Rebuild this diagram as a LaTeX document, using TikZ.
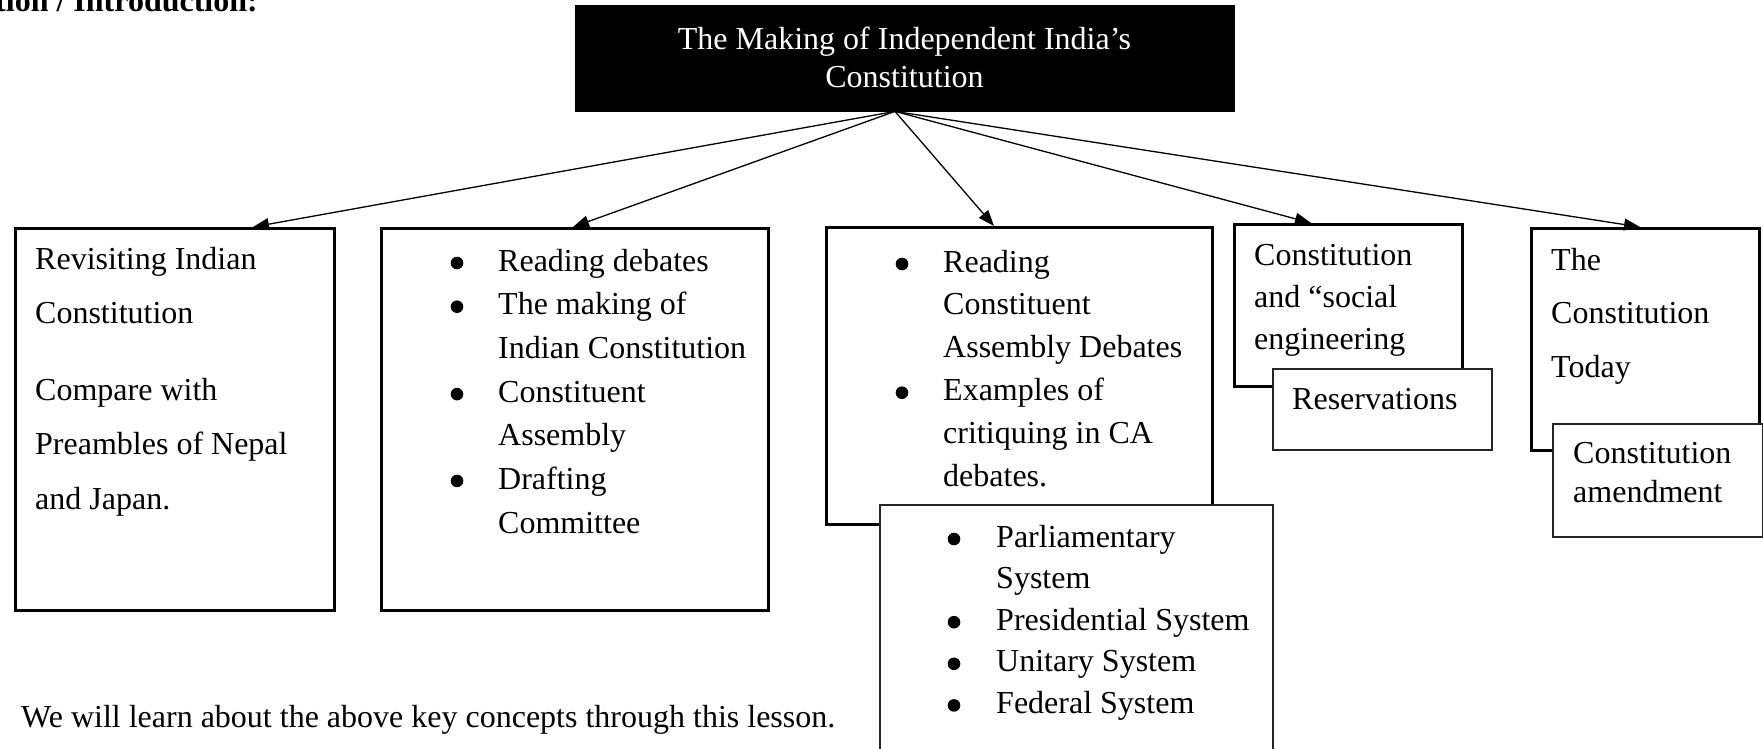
\documentclass[tikz,border=0pt]{standalone}
\usepackage{fontspec}
\setmainfont{Liberation Serif}
\usetikzlibrary{arrows.meta,calc}
\newcommand\linesat[2]{\fontsize{32pt}{#1}\selectfont\begin{tabular}[t]{@{}l@{}}#2\end{tabular}}
\begin{document}
\begin{tikzpicture}[x=1pt,y=-1pt,
  mainbox/.style={draw, line width=3pt, fill=white, anchor=north west, inner sep=0pt},
  subbox/.style={draw=black!85, line width=1.5pt, fill=white, anchor=north west, inner sep=0pt},
  arr/.style={-{Triangle[length=16pt,width=12pt]}, line width=1.3pt},
  lbl/.style={anchor=base west, inner sep=0pt}]
\useasboundingbox (0,0) rectangle (1763,749);
\clip (0,0) rectangle (1763,749);

% header
\node[anchor=base east, inner sep=0pt, font=\fontsize{32pt}{38pt}\selectfont\bfseries] (hdr) at (258,12) {tion / Introduction:};

% title
\node[anchor=north west, fill=black, draw=black, inner sep=0pt, minimum width=659pt, minimum height=106pt] (title) at (575,5) {};
\node[anchor=base, inner sep=0pt, text=white, font=\fontsize{32pt}{38pt}\selectfont] (titletext) at (904.5,50)
  {\begin{tabular}[t]{@{}c@{}}The Making of Independent India’s\\Constitution\end{tabular}};

% main boxes
\node[mainbox, minimum width=319pt, minimum height=382pt] (b1) at (14,227) {};
\node[mainbox, minimum width=387pt, minimum height=382pt] (b2) at (380,227) {};
\node[mainbox, minimum width=386pt, minimum height=297pt] (b3) at (825,226) {};
\node[mainbox, minimum width=228pt, minimum height=162pt] (b4) at (1233,223) {};
\node[mainbox, minimum width=228pt, minimum height=222pt] (b5) at (1530,227) {};

% sub boxes
\node[subbox, minimum width=393pt, minimum height=270pt] (s3) at (879,504) {};
\node[subbox, minimum width=219pt, minimum height=81pt] (s4) at (1272,368) {};
\node[subbox, minimum width=210pt, minimum height=113pt] (s5) at (1552,423) {};

% arrows
\coordinate (src) at ($(title.south west)+(320,0)$);
\draw[arr] (src) -- ($(b1.north west)+(239,0)$);
\draw[arr] (src) -- ($(b2.north west)+(193,0)$);
\draw[arr] (src) -- ($(b3.north west)+(169,0)$);
\draw[arr] (src) -- ($(b4.north west)+(78,0)$);
\draw[arr] (src) -- ($(b5.north west)+(110,0)$);

% texts
\node[lbl] (t1) at (35,269) {\linesat{54.5pt}{Revisiting Indian\\Constitution\\[22pt]Compare with\\Preambles of Nepal\\and Japan.}};
\node[lbl] (t2) at (498,271) {\linesat{43.7pt}{Reading debates\\The making of\\Indian Constitution\\Constituent\\Assembly\\Drafting\\Committee}};
\node[lbl] (t3) at (943,272) {\linesat{42.9pt}{Reading\\Constituent\\Assembly Debates\\Examples of\\critiquing in CA\\debates.}};
\node[lbl] (t3s) at (996,547) {\linesat{41.6pt}{Parliamentary\\System\\Presidential System\\Unitary System\\Federal System}};
\node[lbl] (t4) at (1254,265) {\linesat{42pt}{Constitution\\and “social\\engineering}};
\node[lbl] (t4s) at (1292,409) {\linesat{40pt}{Reservations}};
\node[lbl] (t5) at (1551,270) {\linesat{53.5pt}{The\\Constitution\\Today}};
\node[lbl] (t5s) at (1573,463) {\linesat{39pt}{Constitution\\amendment}};
\node[lbl] (foot) at (21,727) {\linesat{40pt}{We will learn about the above key concepts through this lesson.}};

% bullets
\foreach \yy in {271,314.7,402.1,488.9} \fill (457,\yy-8) circle (6.3);
\foreach \yy in {272,400.7} \fill (902,\yy-8) circle (6.3);
\foreach \yy in {547,630.2,671.8,713.4} \fill (954,\yy-8) circle (6.3);
\end{tikzpicture}
\end{document}
